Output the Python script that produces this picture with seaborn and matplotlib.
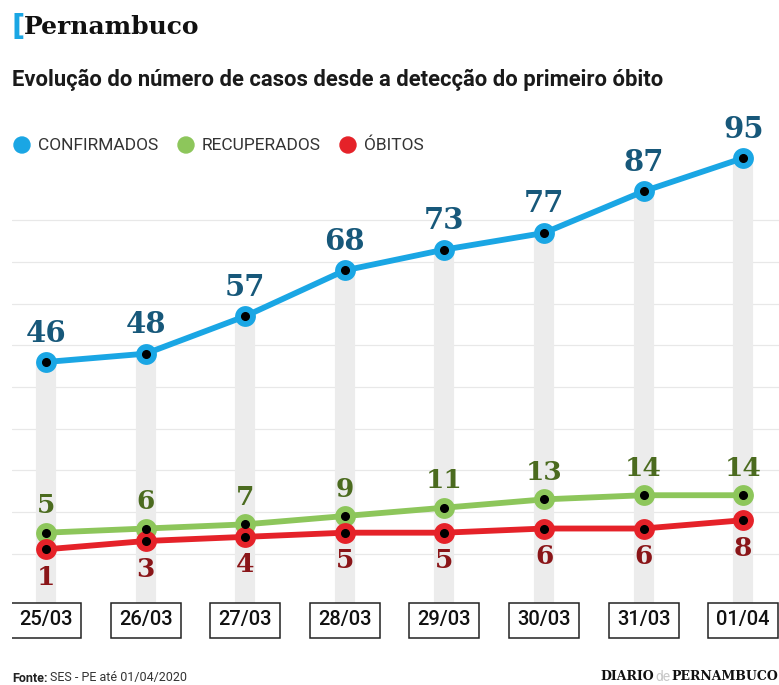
import matplotlib
matplotlib.use("Agg")
import matplotlib.pyplot as plt
import seaborn as sns
import pandas as pd
from matplotlib.patches import Rectangle, Circle

datas = ["25/03", "26/03", "27/03", "28/03", "29/03", "30/03", "31/03", "01/04"]
confirmados = [46, 48, 57, 68, 73, 77, 87, 95]
recuperados = [5, 6, 7, 9, 11, 13, 14, 14]
obitos = [1, 3, 4, 5, 5, 6, 6, 8]
grid_vals = [0, 10, 20, 30, 40, 50, 60, 70, 80]

c_blue, c_green, c_red = "#1aa6e4", "#8dc65b", "#e52229"
t_blue, t_green, t_red = "#17587a", "#4b6b1f", "#8a1518"

sns.set_theme(style="white")
plt.rcParams["font.family"] = ["Roboto", "DejaVu Sans"]

W, H = 779, 685
fig = plt.figure(figsize=(W / 100, H / 100), dpi=100)
ax = fig.add_axes([12 / W, 1 - 645 / H, 767 / W, 545 / H])
x0px, dxpx = 46, 99.6
ax.set_xlim((12 - x0px) / dxpx, (779 - x0px) / dxpx)
y0px, kpx = 553.5, 4.163
ax.set_ylim((y0px - 645) / kpx, (y0px - 100) / kpx)
ax.axis("off")

idx = list(range(len(datas)))
box_y = (y0px - 620) / kpx
box_h = 35 / kpx
box_w = 70 / dxpx

for g in grid_vals:
    ax.axhline(g, color="#e8e8e8", lw=0.9, zorder=0)

ax.vlines(idx, [box_y] * len(idx), confirmados, colors="#ececec", lw=14.5, zorder=1)

df = pd.DataFrame({"i": idx * 3,
                   "v": confirmados + recuperados + obitos,
                   "s": ["CONFIRMADOS"] * 8 + ["RECUPERADOS"] * 8 + ["ÓBITOS"] * 8})
sns.lineplot(data=df, x="i", y="v", hue="s",
             palette={"CONFIRMADOS": c_blue, "RECUPERADOS": c_green, "ÓBITOS": c_red},
             lw=4.2, marker="o", markersize=15, markeredgewidth=0, legend=False,
             ax=ax, zorder=3)
for vals in (confirmados, recuperados, obitos):
    ax.plot(idx, vals, "o", color="black", markersize=5.5, zorder=4)

lab_font = dict(family=["DejaVu Serif"], fontweight="bold", ha="center", va="center")
for i, v in zip(idx, confirmados):
    ax.text(i, v + 29 / kpx, str(v), color=t_blue, fontsize=21, zorder=5, **lab_font)
for i, v in zip(idx, recuperados):
    ax.text(i, v + 27 / kpx, str(v), color=t_green, fontsize=19, zorder=5, **lab_font)
for i, v in zip(idx, obitos):
    ax.text(i, v - 28 / kpx, str(v), color=t_red, fontsize=19, zorder=5, **lab_font)

for i, d in zip(idx, datas):
    ax.add_patch(Rectangle((i - box_w / 2, box_y - box_h / 2), box_w, box_h,
                           facecolor="white", edgecolor="#222222", lw=1.1, zorder=6))
    ax.text(i, box_y, d, ha="center", va="center", fontsize=14.5, fontweight="medium",
            color="#111111", zorder=7)

# title
fig.text(11 / W, 1 - 27 / H, "[", color=c_blue, fontsize=21, fontweight="bold",
         family=["DejaVu Sans"], va="center", ha="left")
fig.text(24 / W, 1 - 27 / H, "Pernambuco", color="#111111", fontsize=18,
         fontweight="heavy", family=["DejaVu Serif"], va="center", ha="left")
fig.text(12 / W, 1 - 80 / H, "Evolução do número de casos desde a detecção do primeiro óbito",
         color="#1a1a1a", fontsize=15.8, fontweight="bold", va="center", ha="left")

# legend
leg = [("CONFIRMADOS", c_blue, 14), ("RECUPERADOS", c_green, 178), ("ÓBITOS", c_red, 340)]
for name, col, xp in leg:
    fig.patches.append(Circle((xp + 8, H - 145), 8, transform=None, color=col))
    fig.text((xp + 24) / W, 1 - 145 / H, name, color="#333333", fontsize=12.5,
             fontweight="normal", va="center", ha="left")

# footer
fig.text(12 / W, 1 - 678 / H, "Fonte:", color="#222222", fontsize=9, fontweight="bold",
         va="center", ha="left")
fig.text(50 / W, 1 - 678 / H, "SES - PE até 01/04/2020", color="#333333", fontsize=9,
         va="center", ha="left")

fig.canvas.draw()
r = fig.canvas.get_renderer()
t3 = fig.text(778 / W, 1 - 677 / H, "PERNAMBUCO", color="#111111", fontsize=9,
              fontweight="bold", family=["DejaVu Serif"], va="center", ha="right")
x3 = t3.get_window_extent(r).x0
t2 = fig.text((x3 - 1) / W, 1 - 677 / H, "de", color="#c8c8c8", fontsize=10,
              va="center", ha="right")
x2 = t2.get_window_extent(r).x0
fig.text((x2 - 1) / W, 1 - 677 / H, "DIARIO", color="#111111", fontsize=9,
         fontweight="bold", family=["DejaVu Serif"], va="center", ha="right")

fig.savefig("out.png", dpi=100, facecolor="white")
